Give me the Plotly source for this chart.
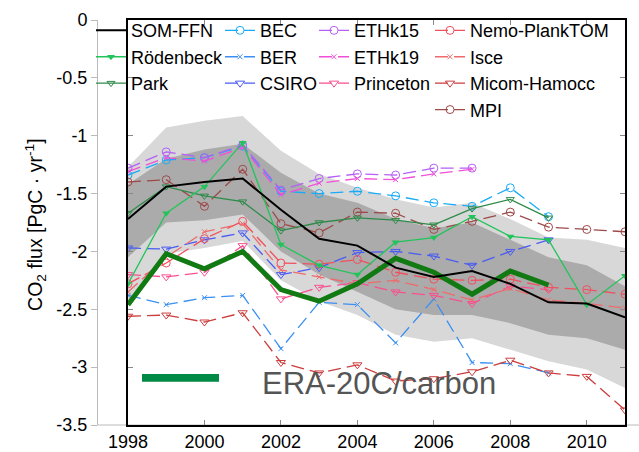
import plotly.graph_objects as go

# ---------------------------------------------------------------- data
years = list(range(1998, 2012))

# observation-based estimates
som_ffn = [-1.72, -1.44, -1.40, -1.37, -1.64, -1.89, -1.95, -2.14, -2.22, -2.17, -2.28, -2.44, -2.45, -2.57]
roedenbeck = [-2.28, -1.67, -1.44, -1.06, -1.94, -2.12, -2.20, -1.92, -1.88, -1.70, -1.87, -1.90, -2.46, -2.21]
park = [-1.67, -1.44, -1.52, -1.57, -1.82, -1.75, -1.71, -1.73, -1.77, -1.63, -1.55, -1.71]
era20c_carbon = [-2.46, -2.02, -2.15, -2.00, -2.33, -2.43, -2.28, -2.06, -2.18, -2.37, -2.17, -2.29]

# ocean biogeochemistry models
bec = [-1.34, -1.21, -1.19, -1.09, -1.48, -1.50, -1.48, -1.52, -1.58, -1.61, -1.45, -1.70]
ber = [-2.38, -2.46, -2.40, -2.38, -2.84, -2.44, -2.46, -2.79, -2.41, -2.96, -2.97, -3.05]
csiro = [-1.97, -1.98, -1.90, -1.84, -2.20, -2.14, -2.01, -2.00, -2.04, -2.12, -2.00, -1.90]
ethk15 = [-1.28, -1.14, -1.19, -1.08, -1.47, -1.37, -1.33, -1.34, -1.28, -1.28]
ethk19 = [-1.31, -1.19, -1.22, -1.10, -1.51, -1.41, -1.37, -1.38, -1.33, -1.29]
princeton = [-2.20, -2.22, -2.18, -1.95, -2.41, -2.31, -2.27, -2.35, -2.38, -2.45, -2.30, -2.33]
nemo_planktom = [-2.28, -2.10, -1.89, -1.74, -2.10, -2.11, -2.07, -2.18, -2.24, -2.25, -2.24, -2.31, -2.33, -2.37]
isce = [-2.35, -2.05, -1.83, -1.76, -2.16, -2.22, -2.28, -2.25, -2.33, -2.42, -2.32, -2.42, -2.45, -2.49]
micom_hamocc = [-2.56, -2.55, -2.61, -2.53, -2.96, -3.05, -2.98, -3.12, -3.10, -3.04, -2.94, -3.05, -3.08, -3.37]
mpi = [-1.40, -1.38, -1.61, -1.29, -1.76, -1.84, -1.66, -1.67, -1.81, -1.74, -1.66, -1.79, -1.81, -1.83]

# spread envelopes (outer and inner)
outer_upper = [-1.27, -0.93, -0.87, -0.83, -1.13, -1.33, -1.45, -1.55, -1.62, -1.58, -1.72, -1.88, -1.90, -1.97]
outer_lower = [-2.43, -2.02, -1.97, -1.91, -2.25, -2.43, -2.55, -2.72, -2.78, -2.75, -2.85, -2.95, -3.02, -3.18]
inner_upper = [-1.42, -1.20, -1.12, -1.07, -1.32, -1.50, -1.58, -1.72, -1.80, -1.75, -1.90, -2.05, -2.12, -2.30]
inner_lower = [-2.05, -1.75, -1.73, -1.68, -2.00, -2.20, -2.35, -2.50, -2.55, -2.55, -2.62, -2.72, -2.75, -2.85]

y_ticks = [0, -0.5, -1, -1.5, -2, -2.5, -3, -3.5]
x_ticks = [1998, 2000, 2002, 2004, 2006, 2008, 2010]

# ---------------------------------------------------------------- layout geometry
W, H = 639, 452
M_L, M_R, M_T, M_B = 97, 14, 12, 27
PW, PH = W - M_L - M_R, H - M_T - M_B
BOX_LEFT = 128  # left edge of the framed panel


def px_x(px):
    return (px - M_L) / PW


def px_y(py):
    return (H - M_B - py) / PH


FONT = "Liberation Sans, Arial, Helvetica, sans-serif"
DASH = "13px,6px"

fig = go.Figure()


def band(upper, lower, color):
    fig.add_trace(go.Scatter(
        x=years + years[::-1], y=upper + lower[::-1],
        mode="lines", fill="toself", fillcolor=color,
        line=dict(width=0), hoverinfo="skip", showlegend=False))


band(outer_upper, outer_lower, "#d8d8d8")
band(inner_upper, inner_lower, "#ababab")

# (name, values, colour, symbol, marker size, line width, legend column)
series = [
    ("BEC", bec, "#1aabf6", "circle-open", 8, 1.3, "legend2"),
    ("BER", ber, "#3b8ff2", "x-thin-open", 5, 1.3, "legend2"),
    ("CSIRO", csiro, "#4a5cf2", "triangle-down-open", 8, 1.3, "legend2"),
    ("ETHk15", ethk15, "#b45ff5", "circle-open", 8, 1.3, "legend3"),
    ("ETHk19", ethk19, "#f24fd8", "x-thin-open", 5, 1.3, "legend3"),
    ("Princeton", princeton, "#fa4f8f", "triangle-down-open", 8, 1.3, "legend3"),
    ("Nemo-PlankTOM", nemo_planktom, "#f0505f", "circle-open", 8, 1.3, "legend4"),
    ("Isce", isce, "#ef6b6b", "x-thin-open", 5, 1.3, "legend4"),
    ("Micom-Hamocc", micom_hamocc, "#cc3d3d", "triangle-down-open", 8, 1.3, "legend4"),
    ("MPI", mpi, "#9e4a4a", "circle-open", 8, 1.3, "legend4"),
]

for name, vals, color, symbol, size, width, leg in series:
    fig.add_trace(go.Scatter(
        x=years[:len(vals)], y=vals, name=name, legend=leg, legendgroup=name,
        mode="lines+markers",
        line=dict(color=color, width=width, dash=DASH),
        marker=dict(symbol=symbol, size=size, color=color,
                    line=dict(color=color, width=1))))

fig.add_trace(go.Scatter(
    x=years[:len(park)], y=park, name="Park", legend="legend", legendgroup="Park",
    legendrank=3, mode="lines+markers", line=dict(color="#2f8a4a", width=1.3),
    marker=dict(symbol="triangle-down-open", size=7, color="#2f8a4a",
                line=dict(color="#2f8a4a", width=1))))
fig.add_trace(go.Scatter(
    x=years[:len(roedenbeck)], y=roedenbeck, name="Rödenbeck", legend="legend",
    legendgroup="Rödenbeck", legendrank=2, mode="lines+markers",
    line=dict(color="#22c45a", width=1.3),
    marker=dict(symbol="triangle-down", size=7, color="#22c45a")))
fig.add_trace(go.Scatter(
    x=years[:len(era20c_carbon)], y=era20c_carbon, name="ERA-20C/carbon",
    mode="lines", line=dict(color="#127a12", width=5), showlegend=False))
# the reference estimate is plotted against the labelled outer axis (same range)
fig.add_trace(go.Scatter(
    x=years, y=som_ffn, name="SOM-FFN", legend="legend", legendgroup="SOM-FFN",
    legendrank=1, yaxis="y2", mode="lines", line=dict(color="black", width=2)))

# legend columns
legend_common = dict(
    font=dict(family=FONT, size=18, color="black"), bgcolor="rgba(0,0,0,0)",
    borderwidth=0, yanchor="top", y=px_y(4), xanchor="left",
    tracegroupgap=0, itemwidth=30, traceorder="grouped")
legend_cols = {"legend": 91, "legend2": 220, "legend3": 314, "legend4": 430}
layout_legends = {k: dict(legend_common, x=px_x(v)) for k, v in legend_cols.items()}

x_dom0 = px_x(BOX_LEFT)

fig.update_layout(
    width=W, height=H,
    margin=dict(l=M_L, r=M_R, t=M_T, b=M_B, pad=0),
    plot_bgcolor="white", paper_bgcolor="white",
    font=dict(family=FONT, size=18, color="black"),
    showlegend=True,
    **layout_legends,
    xaxis=dict(
        domain=[x_dom0, 1], range=[1998, 2011], automargin=False,
        tickvals=x_ticks, ticks="inside", ticklen=5, tickcolor="#888",
        showline=True, linecolor="black", linewidth=1.5, mirror="ticks",
        showgrid=False, zeroline=False,
        tickfont=dict(family=FONT, size=18, color="black")),
    yaxis=dict(
        range=[-3.5, 0], tickvals=y_ticks, ticks="inside", ticklen=5, tickcolor="#888",
        showticklabels=False, showline=True, linecolor="black", linewidth=1.5,
        mirror="ticks", showgrid=False, zeroline=False, automargin=False),
    yaxis2=dict(
        overlaying="y", anchor="free", position=0, side="left",
        range=[-3.5, 0], tickvals=y_ticks, ticktext=[f"{v:g}" for v in y_ticks],
        ticks="outside", ticklen=6, tickcolor="#bbbbbb",
        showline=True, linecolor="#bbbbbb", linewidth=1,
        showgrid=False, zeroline=False, automargin=False,
        tickfont=dict(family=FONT, size=18, color="black")),
    shapes=[
        dict(type="line", xref="paper", yref="paper", x0=0, x1=1.05, y0=0, y1=0,
             line=dict(color="#bbbbbb", width=1), layer="below"),
        dict(type="rect", xref="paper", yref="paper",
             x0=px_x(142), x1=px_x(219), y0=px_y(381), y1=px_y(373),
             fillcolor="#008a45", line=dict(width=0)),
    ],
    annotations=[
        dict(text="CO<sub>2</sub> flux [PgC · yr<sup>-1</sup>]",
             xref="paper", yref="paper", x=px_x(36), y=px_y(221),
             xanchor="center", yanchor="middle", textangle=-90, showarrow=False,
             font=dict(family=FONT, size=19.5, color="black")),
        dict(text="ERA-20C/carbon", xref="paper", yref="paper",
             x=px_x(260), y=px_y(383), xanchor="left", yanchor="middle",
             showarrow=False, font=dict(family=FONT, size=31, color="#555555")),
    ],
)

fig.write_html("out.html")
